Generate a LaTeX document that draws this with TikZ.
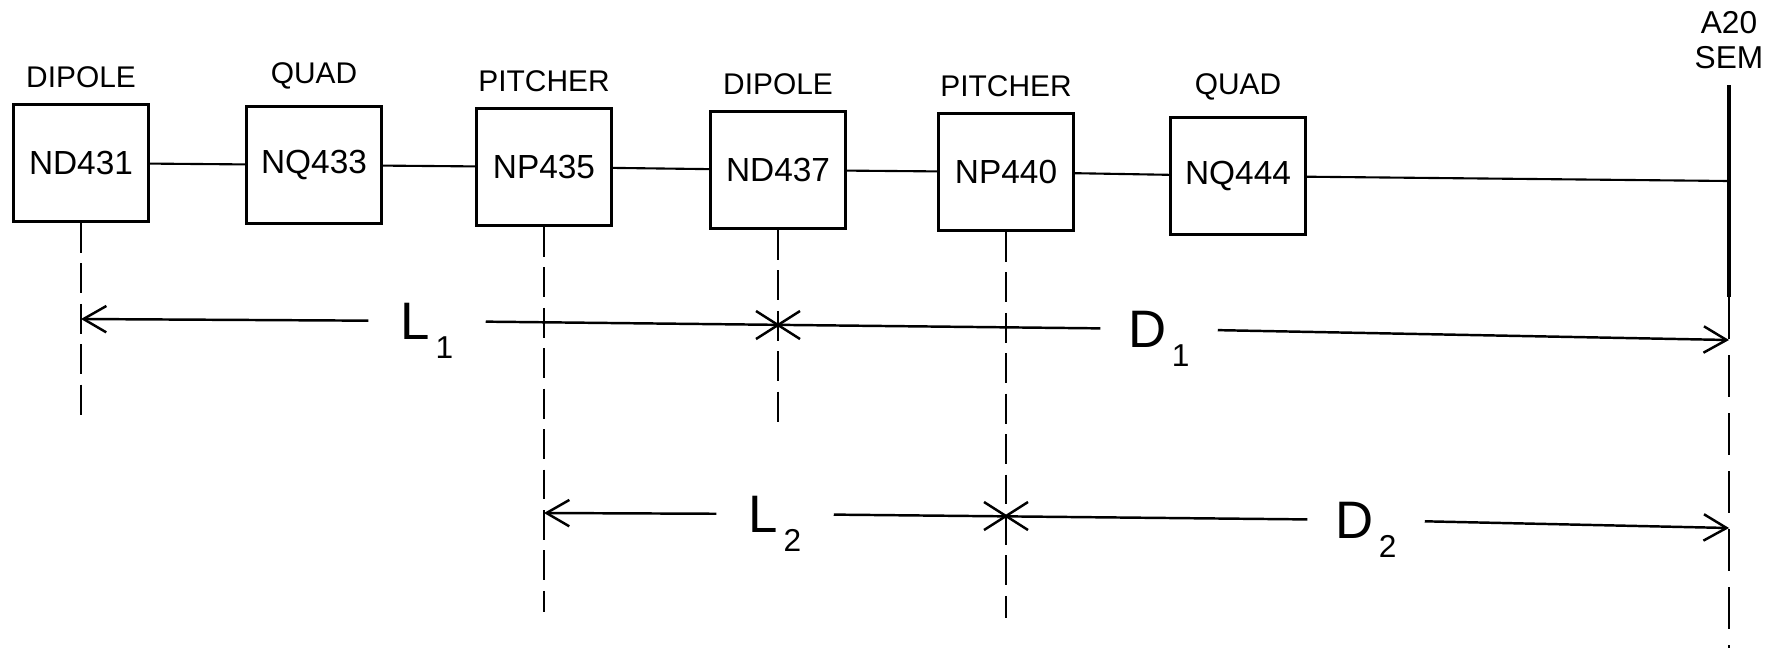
\documentclass[tikz,border=0pt]{standalone}
\usepackage{fontspec}
\setmainfont{Liberation Sans}
\usetikzlibrary{positioning,arrows.meta}
\newcommand\indice[1]{\kern1.5pt\smash{\raisebox{-5.5pt}{\fontsize{9}{9}\selectfont #1}}}
\begin{document}
\begin{tikzpicture}[
    x={(.01cm,0cm)}, y={(0cm,-.01cm)},
    >={Straight Barb[length=6.5pt,width=7.5pt]},
    iman/.style={draw,line width=.8pt,minimum width=1.35cm,minimum height=1.17cm,
        inner sep=0pt,font=\fontsize{9.5}{11}\selectfont},
    tipo/.style={font=\fontsize{8.5}{10}\selectfont,inner sep=0pt},
    haz/.style={line width=.6pt},
    guia/.style={line width=.6pt,dash pattern=on 8.5pt off 3pt},
    cota/.style={line width=.7pt},
    etiq/.style={font=\fontsize{15}{16}\selectfont,inner sep=0pt,minimum width=1.16cm}]
    \useasboundingbox (0,0) rectangle (1777,648);

    % Imanes de la linea y su tipo encima.
    \foreach \nom/\pos/\tipo in {ND431/{81,163}/DIPOLE,NQ433/{314,165}/QUAD,
        NP435/{544,167}/PITCHER,ND437/{778,170}/DIPOLE,
        NP440/{1006,172}/PITCHER,NQ444/{1238,176}/QUAD} {
        \node[iman] (\nom) at (\pos) {\nom};
        \node[tipo,above=1.5mm of \nom] (t\nom) {\tipo};
    }
    \foreach \a/\b in {ND431/NQ433,NQ433/NP435,NP435/ND437,ND437/NP440,NP440/NQ444}
        \draw[haz] (\a) -- (\b);

    % Monitor al final de la linea.
    \node[font=\fontsize{9}{10}\selectfont,align=center,inner sep=4.5pt] (sem) at (1729,40) {A20\\SEM};
    \coordinate (sem-haz) at (1729,181);
    \coordinate (sem-fin) at (1729,297);
    \coordinate (sem-pie) at (1729,648);
    \draw[haz] (NQ444) -- (sem-haz);
    \draw[line width=1pt] (sem) -- (sem-fin);
    \draw[line width=.7pt,dash pattern=on 12pt off 4.5pt] (sem-fin) -- (sem-pie);

    % Lineas de referencia bajo los imanes.
    \foreach \nom/\fin in {ND431/417,NP435/612,ND437/425,NP440/618}
        \draw[guia] (\nom) -- (\nom.south |- 0,\fin);

    % Distancias.
    \node[etiq] (L1) at (427,321) {L\indice{1}};
    \node[etiq] (D1) at (1159,329) {D\indice{1}};
    \node[etiq] (L2) at (775,514) {L\indice{2}};
    \node[etiq] (D2) at (1366,520) {D\indice{2}};
    \coordinate (a1) at (81,319);
    \coordinate (b1) at (1729,340);
    \coordinate (a2) at (544,513);
    \coordinate (b2) at (1729,528);
    \coordinate (x1) at (778,325);
    \coordinate (x2) at (1006,516);
    \draw[cota,->] (L1) -- (a1);
    \draw[cota] (L1) -- (D1);
    \draw[cota,->] (D1) -- (b1);
    \draw[cota,->] (L2) -- (a2);
    \draw[cota] (L2) -- (D2);
    \draw[cota,->] (D2) -- (b2);
    \foreach \c in {x1,x2}
        \draw[cota] (\c) ++(-22,-14) -- ++(44,28) (\c) ++(-22,14) -- ++(44,-28);
\end{tikzpicture}
\end{document}
